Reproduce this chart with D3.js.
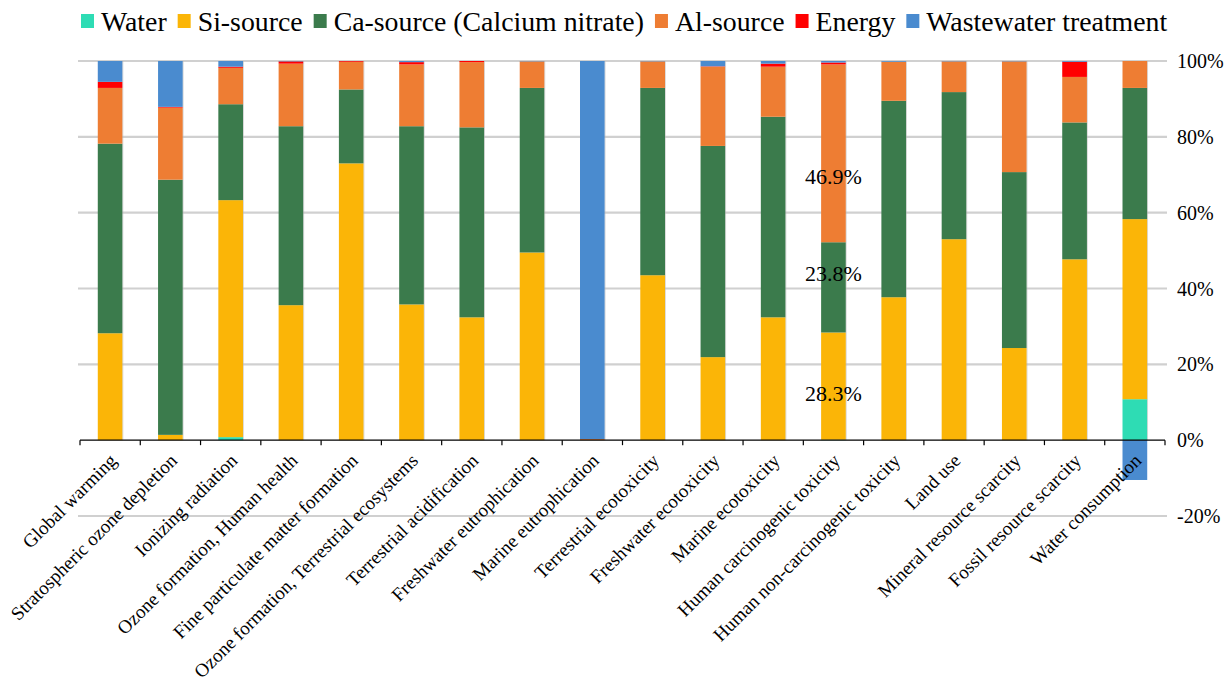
<!DOCTYPE html>
<html>
<head>
<meta charset="utf-8">
<script src="https://cdn.jsdelivr.net/npm/d3@7"></script>
<style>
  html, body { margin: 0; padding: 0; background: #fff; }
  svg { display: block; }
  svg text { font-family: "Liberation Serif", "Times New Roman", serif; }
</style>
</head>
<body>
<svg id="chart" width="1227" height="677"></svg>
<script>
// Impact categories (x axis)
const categories = [
  "Global warming", "Stratospheric ozone depletion", "Ionizing radiation",
  "Ozone formation, Human health", "Fine particulate matter formation",
  "Ozone formation, Terrestrial ecosystems", "Terrestrial acidification",
  "Freshwater eutrophication", "Marine eutrophication", "Terrestrial ecotoxicity",
  "Freshwater ecotoxicity", "Marine ecotoxicity", "Human carcinogenic toxicity",
  "Human non-carcinogenic toxicity", "Land use", "Mineral resource scarcity",
  "Fossil resource scarcity", "Water consumption"
];

// Contribution of each input (%), one value per category
const water      = [0, 0, 0.8, 0, 0, 0, 0, 0, 0, 0, 0, 0, 0.1, 0, 0, 0, 0, 10.8];
const siSource   = [28.2, 1.4, 62.5, 35.6, 73.0, 35.8, 32.4, 49.5, 0, 43.5, 21.9, 32.4, 28.3, 37.7, 53.0, 24.3, 47.7, 47.5];
const caSource   = [50.0, 67.3, 25.3, 47.2, 19.5, 47.0, 50.1, 43.4, 0, 49.4, 55.7, 52.9, 23.8, 51.8, 38.8, 46.4, 36.1, 34.6];
const alSource   = [14.7, 19.0, 9.6, 16.5, 7.3, 16.3, 17.2, 7.0, 0.3, 7.0, 20.9, 13.2, 46.9, 10.3, 8.1, 29.2, 12.0, 7.1];
const energy     = [1.6, 0.2, 0.3, 0.6, 0.2, 0.6, 0.3, 0, 0, 0, 0.1, 0.8, 0.5, 0, 0, 0, 4.0, 0];
const wastewater = [5.5, 12.1, 1.5, 0.1, 0, 0.3, 0, 0.1, 99.7, 0.1, 1.4, 0.7, 0.4, 0.2, 0.1, 0.1, 0.2, -10.5];

const seriesNames = ["Water", "Si-source", "Ca-source (Calcium nitrate)", "Al-source", "Energy", "Wastewater treatment"];
const seriesValues = [water, siSource, caSource, alSource, energy, wastewater];
const seriesColors = ["#2edcb4", "#fbb507", "#3b7b4c", "#ee7d33", "#ff0000", "#4a8bcf"];

// Axis tick values (%)
const yTicks = [-20, 0, 20, 40, 60, 80, 100];

// Category whose segments carry value labels
const labelledCategory = "Human carcinogenic toxicity";
const labelledSeries = ["Si-source", "Ca-source (Calcium nitrate)", "Al-source"];

const svg = d3.select("#chart");
const margin = { left: 80, right: 62, top: 61, bottom: 161 };
const W = 1227, H = 677;

const rows = categories.map((c, i) => {
  const r = { category: c };
  seriesNames.forEach((s, k) => r[s] = seriesValues[k][i]);
  return r;
});

const x = d3.scaleBand().domain(categories)
  .range([margin.left, W - margin.right]).paddingInner(0.59).paddingOuter(0.295);
const y = d3.scaleLinear().domain([-20, 100]).range([H - margin.bottom, margin.top]);

// Gridlines
svg.append("g").selectAll("line").data(yTicks.filter(t => t !== 0)).join("line")
  .attr("x1", margin.left - 2).attr("x2", W - margin.right + 2)
  .attr("y1", d => y(d)).attr("y2", d => y(d))
  .attr("stroke", "#d0d0d0").attr("stroke-width", 2.2);

// Stacked bars (negative values stack below zero)
const stacked = d3.stack().keys(seriesNames).offset(d3.stackOffsetDiverging)(rows);
const layers = svg.append("g").selectAll("g").data(stacked).join("g")
  .attr("fill", (d, i) => seriesColors[i]);
layers.selectAll("rect").data(d => d.map(p => ({ p, cat: p.data.category }))).join("rect")
  .attr("x", d => x(d.cat))
  .attr("width", x.bandwidth())
  .attr("y", d => y(Math.max(d.p[0], d.p[1])))
  .attr("height", d => Math.abs(y(d.p[0]) - y(d.p[1])));

// Light edge on each bar
svg.append("g").selectAll("rect").data(rows).join("rect")
  .attr("x", d => x(d.category) + x.bandwidth())
  .attr("width", 0.8)
  .attr("y", d => y(100))
  .attr("height", d => y(0) - y(100))
  .attr("fill", "#b8b8b8").attr("opacity", 0.6);

// Zero axis with ticks between categories
const axisY = y(0);
const zeroAxis = svg.append("g");
zeroAxis.append("line").attr("x1", margin.left).attr("x2", W - margin.right)
  .attr("y1", axisY).attr("y2", axisY).attr("stroke", "#000").attr("stroke-width", 1.2);
const step = x.step();
const boundaries = d3.range(categories.length + 1).map(i => margin.left + i * step);
zeroAxis.selectAll("line.tick").data(boundaries).join("line").attr("class", "tick")
  .attr("x1", d => d).attr("x2", d => d)
  .attr("y1", axisY).attr("y2", axisY + 5)
  .attr("stroke", "#000").attr("stroke-width", 1.2);

// Right-hand percentage labels
svg.append("g").selectAll("text").data(yTicks).join("text")
  .attr("x", W - margin.right + 12)
  .attr("y", d => y(d))
  .attr("dy", "0.35em")
  .attr("font-size", 20)
  .attr("fill", "#000")
  .text(d => d + "%");

// Category labels, rotated
svg.append("g").selectAll("text").data(categories).join("text")
  .attr("transform", d => `translate(${x(d) + x.bandwidth() / 2 + 3},${axisY + 17}) rotate(-45)`)
  .attr("text-anchor", "end")
  .attr("dy", "0.35em")
  .attr("font-size", 19)
  .attr("fill", "#000")
  .text(d => d);

// Value labels on the labelled category (small vertical nudges keep them clear of segment edges)
const labelNudge = [7, -14, 23];
const lcIndex = categories.indexOf(labelledCategory);
const labelData = labelledSeries.map((s, k) => {
  const layer = stacked.find(l => l.key === s);
  const p = layer[lcIndex];
  return { v: rows[lcIndex][s], mid: (p[0] + p[1]) / 2, nudge: labelNudge[k] };
});
svg.append("g").selectAll("text").data(labelData).join("text")
  .attr("x", x(labelledCategory) + x.bandwidth() / 2)
  .attr("y", d => y(d.mid) + d.nudge)
  .attr("dy", "0.35em")
  .attr("text-anchor", "middle")
  .attr("font-size", 22)
  .attr("fill", "#000")
  .text(d => d.v.toFixed(1) + "%");

// Legend
const legend = svg.append("g").attr("transform", "translate(0,21)");
let lx = 81;
seriesNames.forEach((s, i) => {
  legend.append("rect").attr("x", lx).attr("y", -7).attr("width", 13).attr("height", 14)
    .attr("fill", seriesColors[i]);
  const t = legend.append("text").attr("x", lx + 20).attr("y", 0).attr("dy", "0.35em")
    .attr("font-size", 27.8).attr("fill", "#000").text(s);
  lx += 20 + t.node().getComputedTextLength() + 11;
});
</script>
</body>
</html>
